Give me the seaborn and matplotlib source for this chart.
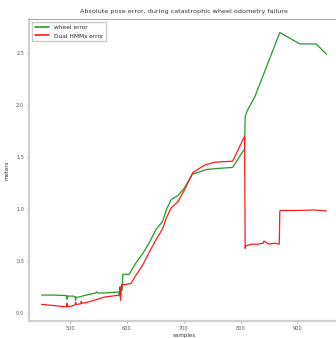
import matplotlib
matplotlib.use("Agg")
import matplotlib.pyplot as plt
import seaborn as sns
import pandas as pd

# DATA ============================================================================

wheel_samples = [450, 470, 494, 495, 496, 505, 509, 510, 511, 515, 525, 545, 547, 549, 560, 575,
                 586, 587, 588, 589, 592, 593, 604, 616, 628, 640, 651, 663, 670, 678, 690, 701,
                 716, 725, 740, 760, 786, 807, 808, 812, 825, 869, 904, 933, 951]
wheel_error = [0.17, 0.17, 0.165, 0.13, 0.16, 0.16, 0.155, 0.12, 0.15, 0.15, 0.165, 0.19, 0.2, 0.19,
               0.19, 0.195, 0.2, 0.16, 0.2, 0.21, 0.22, 0.37, 0.37, 0.48, 0.57, 0.68, 0.80, 0.88,
               1.0, 1.09, 1.13, 1.20, 1.34, 1.35, 1.38, 1.39, 1.40, 1.58, 1.89, 1.95, 2.08, 2.70,
               2.59, 2.59, 2.49]

hmm_samples = [450, 470, 494, 495, 496, 500, 509, 510, 511, 519, 520, 521, 530, 549, 560, 587, 588,
               589, 591, 592, 594, 607, 616, 628, 640, 651, 663, 670, 678, 690, 701, 716, 736, 754,
               786, 807, 808, 809, 812, 820, 830, 840, 841, 850, 860, 868, 869, 870, 900, 930, 951]
hmm_error = [0.08, 0.07, 0.055, 0.09, 0.06, 0.06, 0.075, 0.1, 0.08, 0.085, 0.11, 0.09, 0.1, 0.13,
             0.15, 0.17, 0.25, 0.12, 0.27, 0.27, 0.27, 0.28, 0.36, 0.46, 0.59, 0.70, 0.81, 0.92,
             1.01, 1.07, 1.18, 1.35, 1.42, 1.45, 1.46, 1.70, 0.62, 0.64, 0.65, 0.66, 0.66, 0.67,
             0.69, 0.66, 0.67, 0.66, 0.98, 0.985, 0.985, 0.99, 0.98]

# PLOTTER =========================================================================

sns.set_style("ticks")
plt.rcParams["font.family"] = ["DejaVu Sans"]

wheel_df = pd.DataFrame({"samples": wheel_samples, "meters": wheel_error})
hmm_df = pd.DataFrame({"samples": hmm_samples, "meters": hmm_error})

fig = plt.figure(figsize=(3.36, 3.38), dpi=100)
ax = fig.add_axes([29 / 336, 1 - 321 / 338, 310 / 336, 302 / 338])

sns.lineplot(data=wheel_df, x="samples", y="meters", color="#259a25", linewidth=0.9,
             label="wheel error", ax=ax)
sns.lineplot(data=hmm_df, x="samples", y="meters", color="#ff1a1a", linewidth=0.9,
             label="Dual HMMs error", ax=ax)

ax.set_xlim(428, 973)
ax.set_ylim(-0.08, 2.83)
ax.set_xticks([500, 600, 700, 800, 900])
ax.set_yticks([0.0, 0.5, 1.0, 1.5, 2.0, 2.5])
ax.tick_params(labelsize=3.6, length=1.5, width=0.5, color="#888888", labelcolor="#555555", pad=2)
for side in ["left", "bottom"]:
    ax.spines[side].set_color("#d0d0d0")
    ax.spines[side].set_linewidth(1.6)
ax.spines["top"].set_color("#999999")
ax.spines["top"].set_linewidth(0.6)
ax.spines["right"].set_color("#999999")
ax.spines["right"].set_linewidth(0.6)

ax.set_xlabel("samples", fontsize=4, color="#333333", labelpad=1.5)
ax.set_ylabel("meters", fontsize=4, color="#333333", labelpad=5)
ax.set_title("Absolute pose error, during catastrophic wheel odometry failure", fontsize=4.6,
             color="#333333", pad=4)
leg = ax.legend(loc="upper left", fontsize=4.2, frameon=True, fancybox=False, borderpad=0.5,
                handlelength=2.4, labelspacing=0.6, edgecolor="#cccccc", framealpha=1)
for line in leg.get_lines():
    line.set_linewidth(1.2)

plt.savefig("out.png", dpi=100)
